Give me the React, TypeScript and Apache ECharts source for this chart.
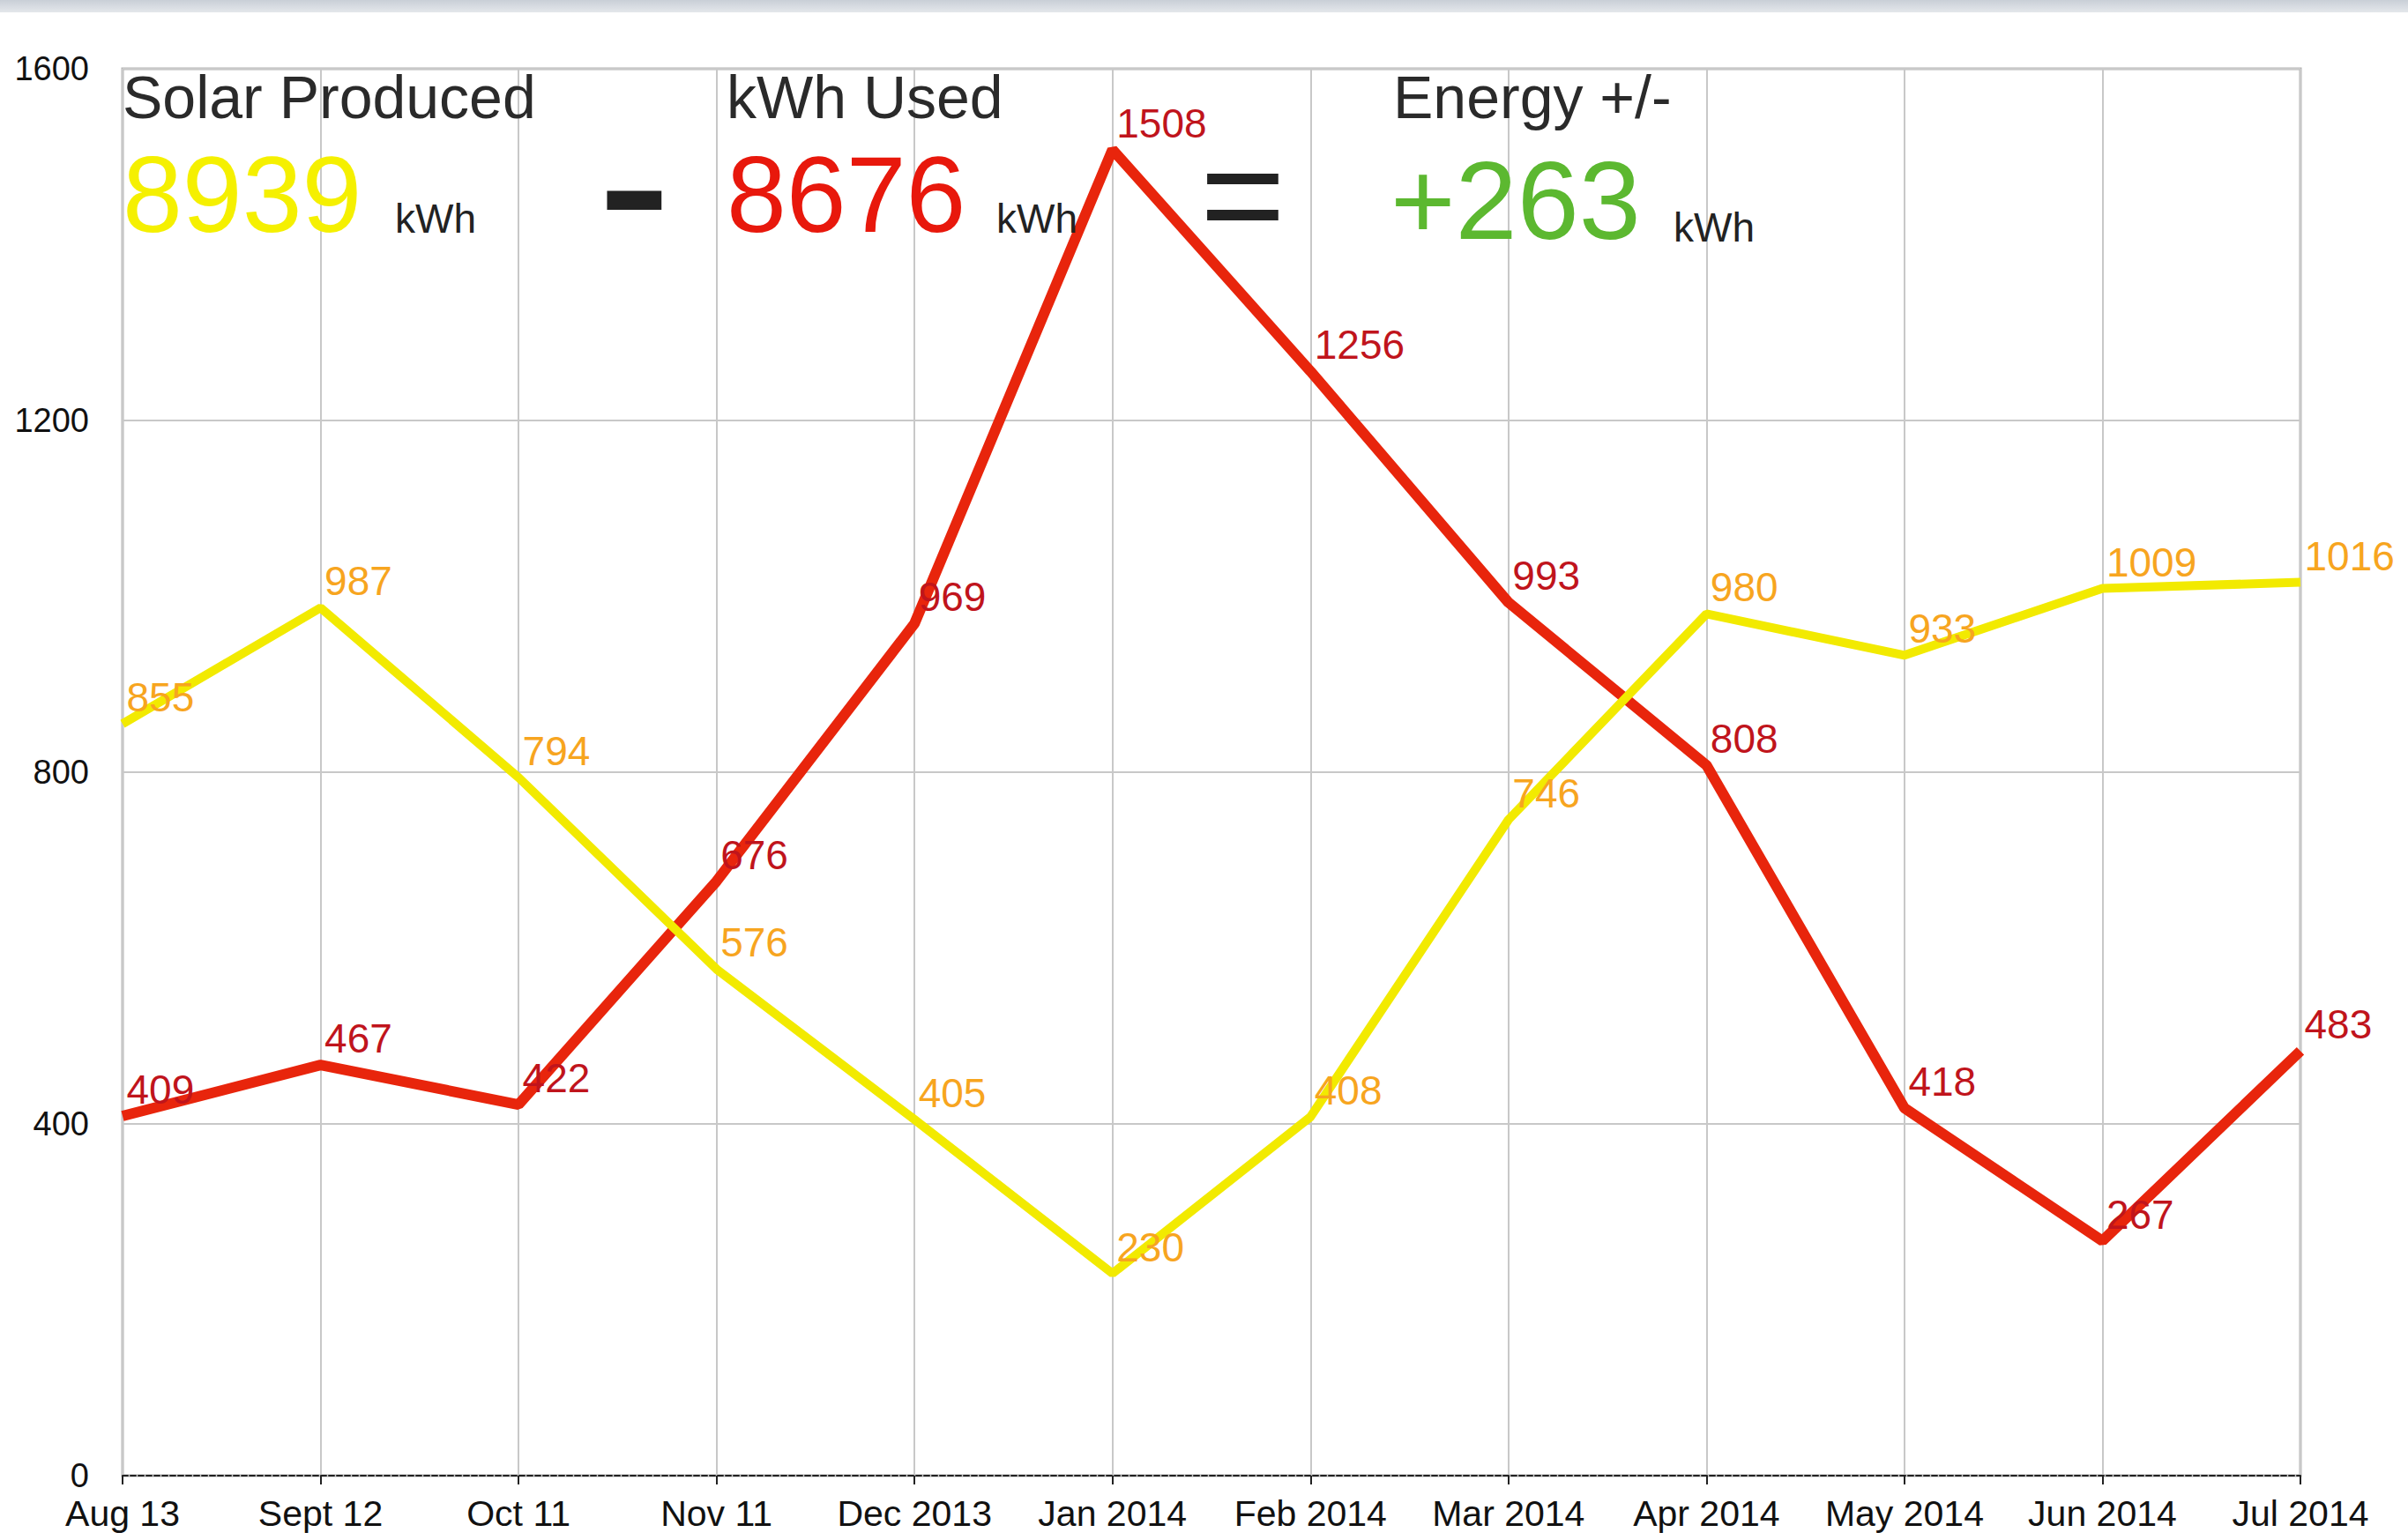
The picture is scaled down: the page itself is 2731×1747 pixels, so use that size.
import React, { useEffect, useRef } from "react";
import * as echarts from "echarts";

const categories = ["Aug 13", "Sept 12", "Oct 11", "Nov 11", "Dec 2013", "Jan 2014", "Feb 2014", "Mar 2014", "Apr 2014", "May 2014", "Jun 2014", "Jul 2014"];
const solarProduced = [855, 987, 794, 576, 405, 230, 408, 746, 980, 933, 1009, 1016];
const kwhUsed = [409, 467, 422, 676, 969, 1508, 1256, 993, 808, 418, 267, 483];
const yTicks = { min: 0, max: 1600, interval: 400 };
const totals = { solar: "8939", used: "8676", net: "+263" };

const FONT = "'Liberation Sans', Arial, Helvetica, sans-serif";

export default function App() {
  const ref = useRef<HTMLDivElement>(null);
  useEffect(() => {
    document.body.style.margin = "0";
    const chart = echarts.init(ref.current!, null, { renderer: "svg" });
    const lbl = (color: string) => ({
      show: true,
      position: "right" as const,
      distance: 4,
      offset: [0, -30],
      color,
      fontSize: 46,
      fontFamily: FONT,
    });
    const txt = (x: number, y: number, text: string, fill: string, fontSize: number, extra: any = {}) => ({
      type: "text",
      x,
      y,
      z: 10,
      ...extra,
      style: { text, fill, fontSize, fontFamily: FONT, verticalAlign: "top", ...(extra.style || {}) },
    });
    chart.setOption({
      animation: false,
      backgroundColor: "#ffffff",
      textStyle: { fontFamily: FONT },
      grid: {
        left: 139,
        right: 122,
        top: 78,
        bottom: 73,
        show: true,
        borderColor: "#b4b4b4",
        borderWidth: 3,
      },
      xAxis: {
        type: "category",
        data: categories,
        boundaryGap: false,
        axisLine: { show: true, lineStyle: { color: "#222", width: 2, type: [6, 3] } },
        axisTick: { show: true, interval: 0, length: 10, lineStyle: { color: "#222", width: 2 } },
        axisLabel: { color: "#111", fontSize: 41, margin: 22, interval: 0, fontFamily: FONT },
        splitLine: { show: true, interval: 0, lineStyle: { color: "#c8c8c8", width: 2 } },
      },
      yAxis: {
        type: "value",
        min: yTicks.min,
        max: yTicks.max,
        interval: yTicks.interval,
        axisLine: { show: false },
        axisTick: { show: false },
        axisLabel: { color: "#111", fontSize: 38, margin: 38, fontFamily: FONT, formatter: (v: number) => String(v) },
        splitLine: { show: true, lineStyle: { color: "#c8c8c8", width: 2 } },
      },
      series: [
        {
          name: "kWh Used",
          type: "line",
          data: kwhUsed,
          symbol: "circle",
          symbolSize: 1,
          itemStyle: { color: "rgba(0,0,0,0)" },
          lineStyle: { color: "#e8250c", width: 12 },
          label: lbl("#c0141c"),
          z: 3,
        },
        {
          name: "Solar Produced",
          type: "line",
          data: solarProduced,
          symbol: "circle",
          symbolSize: 1,
          itemStyle: { color: "rgba(0,0,0,0)" },
          lineStyle: { color: "#f2ea00", width: 10 },
          label: lbl("#f7a51f"),
          z: 4,
        },
      ],
      graphic: [
        {
          type: "rect",
          shape: { x: 0, y: 0, width: 2731, height: 14 },
          style: {
            fill: new echarts.graphic.LinearGradient(0, 0, 0, 1, [
              { offset: 0, color: "#c9cfd7" },
              { offset: 1, color: "#e4e7eb" },
            ]),
          },
          silent: true,
        },
        txt(139, 76, "Solar Produced", "#2a2a2a", 68),
        txt(139, 160, totals.solar, "#f5f000", 122),
        txt(448, 225, "kWh", "#222", 46),
        txt(679, 121, "-", "#222", 180, { scaleX: 1.35, style: { fontWeight: "bold" } }),
        txt(824, 76, "kWh Used", "#2a2a2a", 68),
        txt(824, 160, totals.used, "#e8180c", 122),
        txt(1130, 225, "kWh", "#222", 46),
        txt(1361, 220, "=", "#222", 166, { style: { fontWeight: "normal", verticalAlign: "middle", lineHeight: 60 } }),
        txt(1580, 76, "Energy +/-", "#2a2a2a", 68),
        txt(1577, 164, totals.net, "#5cb830", 126),
        txt(1898, 235, "kWh", "#222", 46),
      ],
    });
    return () => chart.dispose();
  }, []);
  return <div ref={ref} style={{ width: 2731, height: 1747 }} />;
}
